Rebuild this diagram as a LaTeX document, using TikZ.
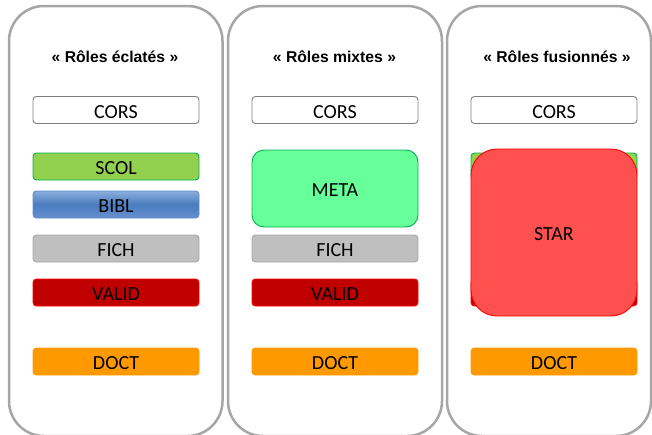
\documentclass[tikz,border=0pt]{standalone}
\usepackage{fontspec}
\setmainfont{Carlito}
\newfontfamily\titlefont{Liberation Sans}
\definecolor{panelgray}{HTML}{A6A6A6}
\definecolor{corsborder}{HTML}{7F7F7F}
\definecolor{scolfill}{HTML}{92D050}
\definecolor{scolborder}{HTML}{00B050}
\definecolor{bibltop}{HTML}{8AAEDD}
\definecolor{biblmid}{HTML}{4A7CBE}
\definecolor{biblbot}{HTML}{6690CF}
\definecolor{biblborder}{HTML}{5A8AD0}
\definecolor{fichfill}{HTML}{BFBFBF}
\definecolor{fichborder}{HTML}{A6A6A6}
\definecolor{validfill}{HTML}{C00000}
\definecolor{validborder}{HTML}{FF0000}
\definecolor{doctfill}{HTML}{FF9900}
\definecolor{metafill}{HTML}{66FF99}
\definecolor{metaborder}{HTML}{00B050}
\definecolor{starfill}{HTML}{FF5050}
\definecolor{starborder}{HTML}{FF0000}
\begin{document}
\begin{tikzpicture}[x=1pt,y=-1pt,
  panel/.style={draw=panelgray,line width=2.5pt,rounded corners=35pt},
  paneltitle/.style={font=\titlefont\bfseries\fontsize{15.7}{15.7}\selectfont, inner sep=0pt},
  role/.style={line width=0.9pt, rounded corners=3.5pt, minimum width=166pt,
    minimum height=27pt, inner sep=0pt, font=\fontsize{20}{20}\selectfont,
    text height=16pt, text depth=0pt},
  cors/.style={role, draw=corsborder, fill=white},
  scol/.style={role, draw=scolborder, fill=scolfill},
  bibl/.style={role, draw=biblborder, top color=bibltop, bottom color=biblbot, middle color=biblmid},
  fich/.style={role, draw=fichborder, fill=fichfill},
  valid/.style={role, draw=validborder, fill=validfill},
  doct/.style={role, draw=doctfill, fill=doctfill},
  meta/.style={role, draw=metaborder, fill=metafill, rounded corners=12pt, minimum height=77pt},
  star/.style={role, draw=starborder, fill=starfill, rounded corners=26pt, minimum height=167pt}
]
\useasboundingbox (0,0) rectangle (652,434);
\clip (0,0) rectangle (652,434);
% panels
\draw[panel] (9,6) rectangle (222.5,436);
\draw[panel] (228,6) rectangle (442,436);
\draw[panel] (447,6) rectangle (651,436);
% panel 1
\node[paneltitle] (t1) at (115,57) {«~Rôles éclatés~»};
\node[cors]  (c1) at (116,110)   {CORS};
\node[scol]  (s1) at (116,166.5) {SCOL};
\node[bibl]  (b1) at (116,204.5) {BIBL};
\node[fich]  (f1) at (116,248.5) {FICH};
\node[valid] (v1) at (116,292.5) {VALID};
\node[doct]  (d1) at (116,361.5) {DOCT};
% panel 2
\node[paneltitle] (t2) at (334.5,57) {«~Rôles mixtes~»};
\node[cors]  (c2) at (335,110)   {CORS};
\node[meta]  (m2) at (335,188.5) {META};
\node[fich]  (f2) at (335,248.5) {FICH};
\node[valid] (v2) at (335,292.5) {VALID};
\node[doct]  (d2) at (335,361.5) {DOCT};
% panel 3
\node[paneltitle] (t3) at (557,57) {«~Rôles fusionnés~»};
\node[cors]  (c3) at (554,110)   {CORS};
\node[scol]  (s3) at (554,166.5) {};
\node[valid] (v3) at (554,292.5) {};
\node[star]  (st3) at (554,232.5) {STAR};
\node[doct]  (d3) at (554,361.5) {DOCT};
\end{tikzpicture}
\end{document}
